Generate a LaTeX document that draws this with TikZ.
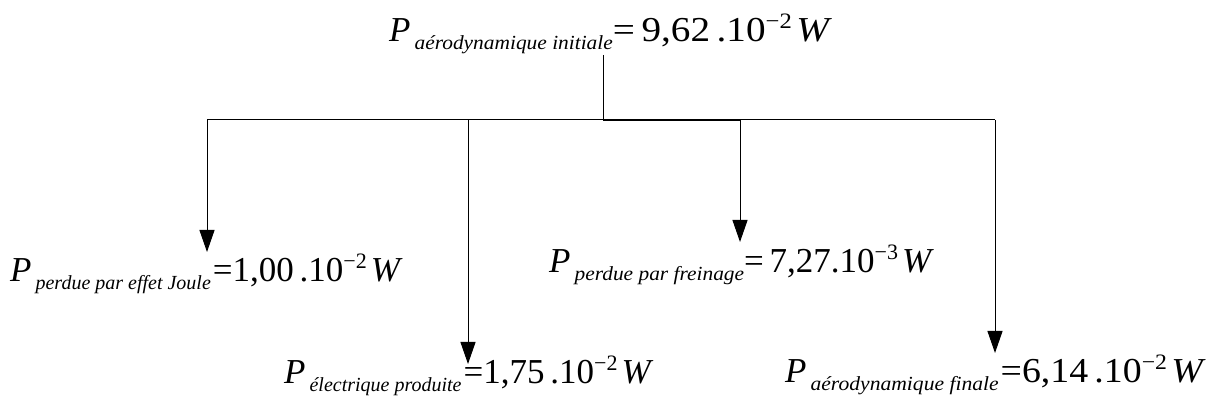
\documentclass[tikz,border=0pt]{standalone}
\usepackage{graphicx}
\usepackage{fontspec}
\setmainfont{Liberation Serif}
\usetikzlibrary{arrows.meta}
\newcommand{\bigt}[1]{{\fontsize{35}{35}\selectfont #1}}
\newcommand{\subt}[1]{\raisebox{-8pt}{\fontsize{20}{20}\selectfont\itshape #1}}
\newcommand{\supt}[1]{\raisebox{13pt}{\fontsize{22}{22}\selectfont #1}}
\newcommand{\hs}[2]{\scalebox{#1}[1]{#2}}
\begin{document}
\begin{tikzpicture}[x=1pt,y=1pt,
  lbl/.style={anchor=base west,inner sep=0pt},
  conn/.style={line width=1pt,black},
  arr/.style={conn,-{Triangle[length=22pt,width=15pt]}}]
\useasboundingbox (0,0) rectangle (1217,412);
% labels
\node[lbl] (top) at (389,370) {\bigt{\itshape P}\hspace{4pt}\hs{1.07}{\subt{aérodynamique initiale}}\hs{1.12}{\bigt{=\,9,62\,.10}\supt{−2}\hspace{4pt}\bigt{\itshape W}}};
\node[lbl] (joule) at (10,130) {\bigt{\itshape P}\hspace{4pt}\subt{perdue par effet Joule}\hspace{2pt}\bigt{=1,00\,.10}\supt{−2}\hspace{4pt}\bigt{\itshape W}};
\node[lbl] (frein) at (549,139) {\bigt{\itshape P}\hspace{4pt}\hs{1.07}{\subt{perdue par freinage}}\bigt{=\,7,27.10}\supt{−3}\hspace{4pt}\bigt{\itshape W}};
\node[lbl] (elec) at (284,28) {\bigt{\itshape P}\hspace{4pt}\subt{électrique produite}\hspace{2pt}\bigt{=1,75\,.10}\supt{−2}\hspace{4pt}\bigt{\itshape W}};
\node[lbl] (fin) at (785,29) {\bigt{\itshape P}\hspace{4pt}\hs{1.08}{\subt{aérodynamique finale}}\hspace{2pt}\hs{1.08}{\bigt{=6,14\,.10}\supt{−2}\hspace{4pt}\bigt{\itshape W}}};
% junction coordinates
\coordinate (t0) at (603,357);
\coordinate (j) at (603,292);
\coordinate (h1) at (207,292);
\coordinate (h2) at (468,292);
\coordinate (h3) at (740,292);
\coordinate (h4) at (995,292);
\coordinate (a1) at (207,160);
\coordinate (a2) at (468,48);
\coordinate (a3) at (740,170);
\coordinate (a4) at (995,59);
% connectors
\draw[conn] (t0) -- (j);
\draw[conn] (h1) -- (h4);
\draw[conn,line width=1.8pt] (j) -- (h3);
\draw[arr] (h1) -- (a1);
\draw[arr] (h2) -- (a2);
\draw[arr] (h3) -- (a3);
\draw[arr] (h4) -- (a4);
\end{tikzpicture}
\end{document}
